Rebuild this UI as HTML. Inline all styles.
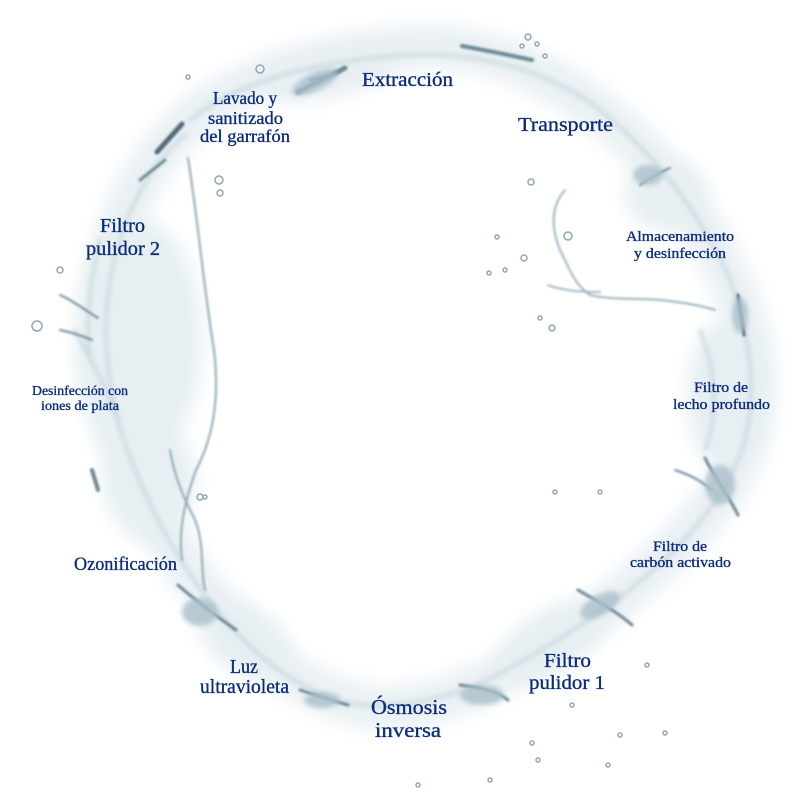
<!DOCTYPE html>
<html>
<head>
<meta charset="utf-8">
<style>
  html,body{margin:0;padding:0;background:#fff;}
  body{width:800px;height:800px;overflow:hidden;}
  svg{display:block;}
  .t{font-family:"Liberation Serif",serif;fill:#0b2c7c;stroke:#0b2c7c;stroke-width:0.35;text-anchor:middle;}
</style>
</head>
<body>
<svg width="800" height="800" viewBox="0 0 800 800" xmlns="http://www.w3.org/2000/svg">
  <defs>
    <filter id="b1" x="-20%" y="-20%" width="140%" height="140%"><feGaussianBlur stdDeviation="9"/></filter>
    <filter id="b2" x="-20%" y="-20%" width="140%" height="140%"><feGaussianBlur stdDeviation="2.5"/></filter>
    <filter id="b3" x="-20%" y="-20%" width="140%" height="140%"><feGaussianBlur stdDeviation="1"/></filter>
  </defs>
  <rect width="800" height="800" fill="#fff"/>

  <!-- soft water band -->
  <g filter="url(#b1)" fill="none" stroke-linecap="round" stroke-linejoin="round">
    <path d="M180,130 C230,80 320,52 420,47 C500,45 560,80 610,120 C660,160 720,240 745,320 C765,390 752,450 720,495 C680,550 600,620 520,665 C470,692 420,712 370,707 C320,700 280,670 240,630 C200,590 170,550 140,490 C105,420 92,340 110,260 C125,200 150,160 180,130 Z"
          stroke="#e9f0f3" stroke-width="42"/>
  </g>
  <g filter="url(#b1)" fill="#e7eff2">
    <ellipse cx="140" cy="340" rx="62" ry="120"/>
    <ellipse cx="150" cy="480" rx="45" ry="60"/>
    <ellipse cx="725" cy="395" rx="38" ry="75"/>
    <ellipse cx="665" cy="195" rx="40" ry="35"/>
    <ellipse cx="245" cy="640" rx="50" ry="32" transform="rotate(35 245 640)"/>
    <ellipse cx="550" cy="640" rx="60" ry="28" transform="rotate(-30 550 640)"/>
    <ellipse cx="330" cy="75" rx="70" ry="22" transform="rotate(-12 330 75)"/>
  </g>

  <!-- mid-tone streaks -->
  <g filter="url(#b2)" fill="none" stroke="#c2d3db" stroke-linecap="round" stroke-width="3" opacity="0.9">
    <path d="M190,120 C240,80 320,60 410,55 C490,52 555,75 600,110"/>
    <path d="M600,110 C650,150 700,210 730,280 C752,340 758,400 742,450"/>
    <path d="M742,450 C720,510 670,560 610,605 C560,640 510,670 470,688"/>
    <path d="M470,688 C420,705 370,712 330,698 C290,682 255,655 225,620"/>
    <path d="M225,620 C190,580 160,530 135,470 C110,410 98,340 112,270 C125,210 150,165 185,135"/>
    <path d="M75,330 C90,360 110,390 120,430" />
    <path d="M100,240 C90,280 85,320 90,360"/>
    <path d="M700,330 C715,370 720,410 705,450"/>
  </g>

  <!-- inner thin trail on the left -->
  <g filter="url(#b3)" fill="none" stroke="#8ea7b3" stroke-linecap="round" stroke-width="2">
    <path d="M188,158 C198,220 204,290 214,350 C220,400 212,440 196,470 C185,500 178,530 182,560"/>
    <path d="M170,450 C175,480 185,500 195,520 C205,545 200,570 205,590"/>
  </g>

  <!-- droplet trail right of Transporte -->
  <g filter="url(#b3)" fill="none" stroke="#9cb3be" stroke-linecap="round" stroke-width="2">
    <path d="M565,190 C552,205 550,225 560,250 C570,270 575,285 590,295 C610,300 640,298 660,300 C680,302 700,305 715,310"/>
    <path d="M548,285 C560,290 580,292 600,292"/>
  </g>
  <g fill="none" stroke="#8fa8b4" stroke-width="1.5">
    <circle cx="531" cy="182" r="3"/><circle cx="568" cy="236" r="4"/><circle cx="552" cy="328" r="3"/>
    <circle cx="524" cy="258" r="3"/><circle cx="497" cy="237" r="2"/><circle cx="489" cy="273" r="2"/>
    <circle cx="505" cy="270" r="2"/><circle cx="540" cy="318" r="2"/><circle cx="528" cy="37" r="3"/>
    <circle cx="537" cy="44" r="2"/><circle cx="545" cy="56" r="2"/><circle cx="522" cy="46" r="2"/>
    <circle cx="600" cy="492" r="2"/><circle cx="555" cy="492" r="2"/><circle cx="532" cy="743" r="2"/>
    <circle cx="608" cy="765" r="2"/><circle cx="538" cy="760" r="2"/><circle cx="620" cy="735" r="2"/>
    <circle cx="572" cy="705" r="2"/><circle cx="647" cy="665" r="2"/><circle cx="665" cy="733" r="2"/>
    <circle cx="37" cy="326" r="5"/><circle cx="60" cy="270" r="3"/><circle cx="219" cy="180" r="4"/>
    <circle cx="220" cy="193" r="3"/><circle cx="200" cy="497" r="3"/><circle cx="205" cy="497" r="2"/>
    <circle cx="260" cy="69" r="4"/><circle cx="188" cy="77" r="2"/><circle cx="490" cy="780" r="2"/>
    <circle cx="418" cy="785" r="2"/>
  </g>

  <!-- darker water details -->
  <g filter="url(#b3)" fill="none" stroke="#6c8898" stroke-linecap="round">
    <path d="M298,92 L345,68" stroke-width="5"/>
    <path d="M310,80 L340,72" stroke-width="3"/>
    <path d="M462,46 Q495,52 532,60" stroke-width="4"/>
    <path d="M157,152 L182,124" stroke-width="5" stroke="#4f6877"/>
    <path d="M140,180 L165,160" stroke-width="3"/>
    <path d="M738,295 L744,335" stroke-width="3" stroke="#4f6877"/>
    <path d="M705,458 C715,478 728,495 738,515" stroke-width="3"/>
    <path d="M675,470 C690,475 700,480 712,490" stroke-width="2"/>
    <path d="M578,590 C595,600 615,610 632,625" stroke-width="3"/>
    <path d="M460,685 C480,688 495,690 508,700" stroke-width="3"/>
    <path d="M300,690 C315,695 330,700 348,705" stroke-width="3"/>
    <path d="M178,585 C195,600 215,615 236,630" stroke-width="3"/>
    <path d="M92,470 L98,490" stroke-width="4"/>
    <path d="M60,330 C70,332 80,335 92,340" stroke-width="2"/>
    <path d="M60,295 C72,300 82,308 98,318" stroke-width="2"/>
    <path d="M640,185 C650,178 660,172 670,168" stroke-width="2"/>
  </g>
  <g filter="url(#b2)" fill="#a9bfca" opacity="0.8">
    <ellipse cx="720" cy="485" rx="15" ry="20"/>
    <ellipse cx="600" cy="605" rx="22" ry="10" transform="rotate(-30 600 605)"/>
    <ellipse cx="482" cy="695" rx="22" ry="10"/>
    <ellipse cx="322" cy="700" rx="18" ry="8"/>
    <ellipse cx="200" cy="612" rx="18" ry="14"/>
    <ellipse cx="315" cy="82" rx="25" ry="9" transform="rotate(-25 315 82)"/>
    <ellipse cx="740" cy="315" rx="8" ry="18"/>
    <ellipse cx="648" cy="175" rx="15" ry="10"/>
  </g>

  <!-- labels -->
  <text class="t" x="407.5" y="86" font-size="20" textLength="91" lengthAdjust="spacingAndGlyphs">Extracción</text>
  <text class="t" x="565.5" y="131" font-size="20" textLength="95" lengthAdjust="spacingAndGlyphs">Transporte</text>

  <text class="t" x="245" y="104" font-size="18" textLength="64" lengthAdjust="spacingAndGlyphs">Lavado y</text>
  <text class="t" x="245.5" y="124" font-size="18" textLength="75" lengthAdjust="spacingAndGlyphs">sanitizado</text>
  <text class="t" x="245" y="142" font-size="18" textLength="90" lengthAdjust="spacingAndGlyphs">del garrafón</text>

  <text class="t" x="122.5" y="232" font-size="20" textLength="45" lengthAdjust="spacingAndGlyphs">Filtro</text>
  <text class="t" x="123" y="255" font-size="20" textLength="74" lengthAdjust="spacingAndGlyphs">pulidor 2</text>

  <text class="t" x="80" y="395" font-size="14" textLength="96" lengthAdjust="spacingAndGlyphs">Desinfección con</text>
  <text class="t" x="80" y="410" font-size="14" textLength="78" lengthAdjust="spacingAndGlyphs">iones de plata</text>

  <text class="t" x="680" y="241" font-size="15" textLength="108" lengthAdjust="spacingAndGlyphs">Almacenamiento</text>
  <text class="t" x="680" y="258" font-size="15" textLength="92" lengthAdjust="spacingAndGlyphs">y desinfección</text>

  <text class="t" x="721" y="392" font-size="15" textLength="54" lengthAdjust="spacingAndGlyphs">Filtro de</text>
  <text class="t" x="721.5" y="409" font-size="15" textLength="97" lengthAdjust="spacingAndGlyphs">lecho profundo</text>

  <text class="t" x="680" y="551" font-size="15" textLength="54" lengthAdjust="spacingAndGlyphs">Filtro de</text>
  <text class="t" x="680.5" y="567" font-size="15" textLength="101" lengthAdjust="spacingAndGlyphs">carbón activado</text>

  <text class="t" x="125.5" y="570" font-size="19" textLength="103" lengthAdjust="spacingAndGlyphs">Ozonificación</text>

  <text class="t" x="244" y="673" font-size="20" textLength="28" lengthAdjust="spacingAndGlyphs">Luz</text>
  <text class="t" x="244.5" y="693" font-size="20" textLength="89" lengthAdjust="spacingAndGlyphs">ultravioleta</text>

  <text class="t" x="409" y="714" font-size="21" textLength="76" lengthAdjust="spacingAndGlyphs">Ósmosis</text>
  <text class="t" x="408" y="737" font-size="21" textLength="66" lengthAdjust="spacingAndGlyphs">inversa</text>

  <text class="t" x="567.5" y="667" font-size="20" textLength="47" lengthAdjust="spacingAndGlyphs">Filtro</text>
  <text class="t" x="567" y="689" font-size="20" textLength="76" lengthAdjust="spacingAndGlyphs">pulidor 1</text>
</svg>
</body>
</html>
